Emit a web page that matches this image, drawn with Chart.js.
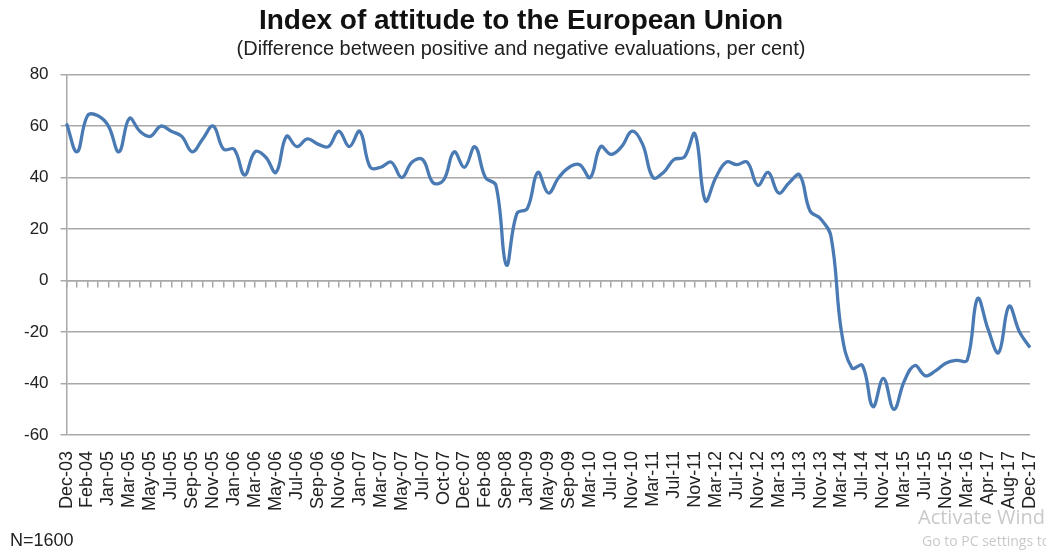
<!DOCTYPE html>
<html>
<head>
<meta charset="utf-8">
<script src="https://cdn.jsdelivr.net/npm/chart.js@4"></script>
<style>
  html, body { margin: 0; padding: 0; background: #fff; overflow: hidden; }
  #wrap { position: relative; width: 1046px; height: 551px; overflow: hidden; }
  #note { position: absolute; left: 10px; top: 530px; font: 18px "Liberation Sans", Arial, sans-serif; color: #222; }
  .wm { position: absolute; color: #c9c9c9; font-family: "Open Sans", sans-serif; white-space: nowrap; }
</style>
</head>
<body>
<div id="wrap">
  <canvas id="chart" width="1046" height="551"></canvas>
  <div id="note">N=1600</div>
  <div class="wm" style="left:918px; top:503px; font-size:20px;">Activate Windows</div>
  <div class="wm" style="left:922px; top:531px; font-size:14px;">Go to PC settings to activate Windows.</div>
</div>
<script>
// tick labels shown on every second survey point
const tickLabels = ['Dec-03', 'Feb-04', 'Jan-05', 'Mar-05', 'May-05', 'Jul-05', 'Sep-05', 'Nov-05',
    'Jan-06', 'Mar-06', 'May-06', 'Jul-06', 'Sep-06', 'Nov-06', 'Jan-07', 'Mar-07', 'May-07', 'Jul-07',
    'Oct-07', 'Dec-07', 'Feb-08', 'Sep-08', 'Jan-09', 'May-09', 'Sep-09', 'Mar-10', 'Jul-10', 'Nov-10',
    'Mar-11', 'Jul-11', 'Nov-11', 'Mar-12', 'Jul-12', 'Nov-12', 'Mar-13', 'Jul-13', 'Nov-13', 'Mar-14',
    'Jul-14', 'Nov-14', 'Mar-15', 'Jul-15', 'Nov-15', 'Mar-16', 'Apr-17', 'Aug-17', 'Dec-17'];

// index of attitude, one value per survey
const indexValues = [61, 50, 64, 64, 60, 50, 63, 58, 56, 60, 58, 56, 50, 55, 60, 51, 51, 41, 50, 48,
    42, 56, 52, 55, 53, 52, 58, 52, 58, 44, 44, 46, 40, 46, 47, 38, 39, 50, 44, 52,
    40, 37, 6, 26, 28, 42, 34, 40, 44, 45, 40, 52, 49, 52, 58, 53, 40, 42, 47, 48,
    57, 31, 40, 46, 45, 46, 37, 42, 34, 38, 41, 27, 24, 17, -20, -34, -33, -49, -38, -50,
    -39, -33, -37, -35, -32, -31, -31, -7, -19, -28, -10, -20, -26];

const yTicks = [-60, -40, -20, 0, 20, 40, 60, 80];

// every survey is a category; only even ones carry a label
const categories = indexValues.map((v, i) => (i % 2 === 0 ? tickLabels[i / 2] : ''));

const gridGray = '#a8a8a8';
const fontFamily = '"Liberation Sans", Arial, sans-serif';

new Chart(document.getElementById('chart').getContext('2d'), {
    type: 'line',
    data: {
        labels: categories,
        datasets: [{
            data: indexValues,
            borderColor: '#4a7ab3',
            borderWidth: 3.3,
            pointRadius: 0,
            tension: 0.4,
            fill: false,
            xAxisID: 'x'
        }]
    },
    options: {
        responsive: false,
        animation: false,
        layout: { padding: { left: 12, right: 16, top: 0, bottom: 32 } },
        plugins: {
            legend: { display: false },
            tooltip: { enabled: false },
            title: {
                display: true,
                text: 'Index of attitude to the European Union',
                color: '#111',
                font: { family: fontFamily, size: 28, weight: 'bold' },
                padding: { top: 4, bottom: 0 }
            },
            subtitle: {
                display: true,
                text: '(Difference between positive and negative evaluations, per cent)',
                color: '#222',
                font: { family: fontFamily, size: 20 },
                padding: { top: 0, bottom: 13 }
            }
        },
        scales: {
            x: {
                type: 'category',
                position: 'bottom',
                grid: { display: false },
                border: { display: false },
                afterFit: (axis) => { axis.paddingRight = 0; },
                ticks: {
                    autoSkip: false,
                    maxRotation: 90,
                    minRotation: 90,
                    padding: 8,
                    color: '#222',
                    font: { family: fontFamily, size: 18 }
                }
            },
            // tick marks along the zero line
            x2: {
                type: 'category',
                position: { y: 0 },
                grid: { drawOnChartArea: false, drawTicks: true, tickLength: 6, color: gridGray, lineWidth: 1.5 },
                border: { display: true, color: gridGray, width: 1.5 },
                afterFit: (axis) => { axis.paddingRight = 0; },
                ticks: { display: false, autoSkip: false }
            },
            y: {
                min: -60,
                max: 80,
                afterBuildTicks: (axis) => { axis.ticks = yTicks.map(v => ({ value: v })); },
                grid: { color: gridGray, lineWidth: 1.5, tickLength: 6 },
                border: { display: true, color: gridGray, width: 1.5 },
                ticks: { padding: 12, color: '#222', font: { family: fontFamily, size: 17 } }
            }
        }
    }
});
</script>
</body>
</html>
